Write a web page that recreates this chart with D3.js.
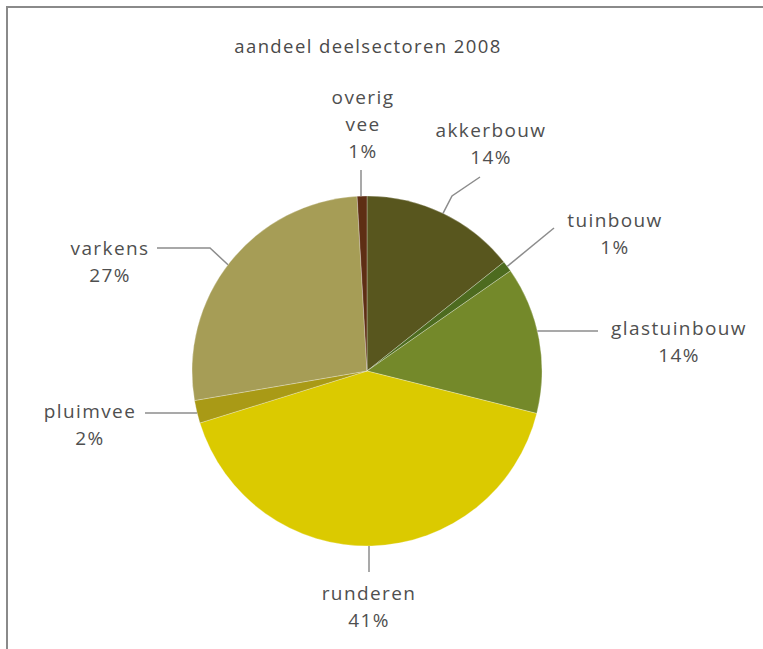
<!DOCTYPE html>
<html><head><meta charset="utf-8">
<script src="https://cdn.jsdelivr.net/npm/d3@7"></script>
<style>body{margin:0;background:#fff}svg{display:block}</style>
</head><body>
<script>
const categories = ["akkerbouw","tuinbouw","glastuinbouw","runderen","pluimvee","varkens","overig vee"];
const values = [14.3, 1.0, 13.6, 41.3, 2.1, 26.8, 0.9];
const colors = ["#58561e","#4d6b1f","#74892a","#dbca00","#a99a16","#a69d56","#5e2e14"];
const title = "aandeel deelsectoren 2008";

const W = 763, H = 649;
const cx = 367, cy = 371, R = 175;
const svg = d3.select("body").append("svg").attr("width", W).attr("height", H);

// frame
svg.append("path").attr("d", `M7,${H} L7,7 L${W},7`).attr("fill","none")
  .attr("stroke","#8a8a8a").attr("stroke-width",2);

svg.append("text").attr("x", 368).attr("y", 53).attr("text-anchor","middle")
  .attr("font-family","Open Sans").attr("font-size",18.5).attr("letter-spacing",1.4)
  .attr("fill","#4a4a4a").text(title);

const data = categories.map((c,i)=>({name:c, value:values[i], color:colors[i]}));
const pie = d3.pie().value(d=>d.value).sort(null);
const arcs = pie(data);
const arc = d3.arc().innerRadius(0).outerRadius(R);

const g = svg.append("g").attr("transform",`translate(${cx},${cy})`);
g.selectAll("path").data(arcs).join("path")
  .attr("d", arc).attr("fill", d=>d.data.color)
  .attr("stroke","#ffffff").attr("stroke-opacity",0.35).attr("stroke-width",0.8);

// label layout: leader polyline and text anchor
const layout = {
  "akkerbouw":   {pts:[[452,196],[480,177]], tx:491, ty:137},
  "tuinbouw":    {pts:[[554,228]], tx:615, ty:227},
  "glastuinbouw":{pts:[[598,331]], tx:679, ty:335},
  "runderen":    {pts:[[369,572]], tx:369, ty:600},
  "pluimvee":    {pts:[[145,413]], tx:90, ty:418},
  "varkens":     {pts:[[210,248],[157,248]], tx:110, ty:255},
  "overig vee":  {pts:[[361,170]], tx:363, ty:104}
};
const fmt = v => Math.round(v) + "%";

arcs.forEach(a=>{
  const L = layout[a.data.name];
  const mid = (a.startAngle + a.endAngle)/2;
  let sx = cx + Math.sin(mid)*R, sy = cy - Math.cos(mid)*R;
  if (a.data.name==="glastuinbouw") { const ang = Math.asin((331-cy)/R); sx = cx + Math.cos(ang)*R; sy = 331; }
  if (a.data.name==="pluimvee") { const ang = Math.asin((413-cy)/R); sx = cx - Math.cos(ang)*R; sy = 413; }
  if (a.data.name==="akkerbouw") { sx = 443; sy = cy - Math.sqrt(R*R-(443-cx)*(443-cx)); }
  if (a.data.name==="varkens") { sx = 228; sy = cy - Math.sqrt(R*R-(228-cx)*(228-cx)); }
  if (a.data.name==="runderen") { sx = 369; sy = cy + R; }
  if (a.data.name==="overig vee") { sx = 361; sy = cy - Math.sqrt(R*R-(361-cx)*(361-cx)); }
  const pts = [[sx,sy], ...L.pts];
  svg.append("path").attr("d", d3.line()(pts)).attr("fill","none")
    .attr("stroke","#8c8c8c").attr("stroke-width",1.5);
  const lines = a.data.name==="overig vee" ? ["overig","vee",fmt(a.data.value)] : [a.data.name, fmt(a.data.value)];
  const t = svg.append("text").attr("text-anchor","middle")
    .attr("font-family","Open Sans").attr("font-size",19).attr("letter-spacing",1.4)
    .attr("fill","#4f4f4f");
  lines.forEach((s,i)=>{
    t.append("tspan").attr("x", L.tx).attr("y", L.ty + i*27).text(s);
  });
});
</script>
</body></html>
